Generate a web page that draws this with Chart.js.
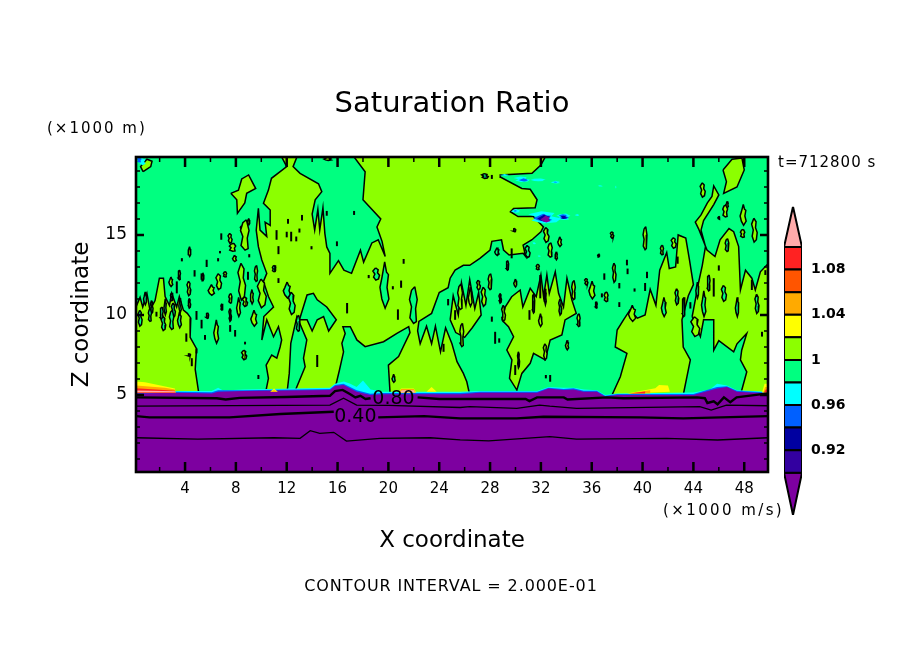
<!DOCTYPE html>
<html><head><meta charset="utf-8">
<style>html,body{margin:0;padding:0;background:#fff}canvas{position:absolute}#main{left:0;top:0}#bar{left:770px;top:200px}</style>
<script src="https://cdn.jsdelivr.net/npm/chart.js@4"></script></head>
<body><canvas id="main" width="904" height="654"></canvas><canvas id="bar" width="120" height="320"></canvas>
<script>
const FONT='"DejaVu Sans"';
const xRange=[0.14,49.87], zRange=[0.19,19.87];
const xTickValues=[4,8,12,16,20,24,28,32,36,40,44,48];
const xMinorValues=[2,6,10,14,18,22,26,30,34,38,42,46];
const zTickValues=[5,10,15];
const zMinorValues=[1,2,3,4,6,7,8,9,11,12,13,14,16,17,18,19];
const barLevels=[0.90,0.92,0.94,0.96,0.98,1.00,1.02,1.04,1.06,1.08,1.10];
const barTicks=[0.92,0.96,1,1.04,1.08];
const barTips=[0.8626,1.1357];
const C={purple:'#7d00a0',indigo:'#3300a0',navy:'#0000a0',blue:'#0060ff',cyan:'#00ffff',teal:'#00ff80',lime:'#8cff00',yellow:'#ffff00',orange:'#ffaa00',ored:'#ff5500',red:'#ff2222',pink:'#ffaaaa'};
const barColors=[C.indigo,C.navy,C.blue,C.cyan,C.teal,C.lime,C.yellow,C.orange,C.ored,C.red];

// Saturation ratio regions as [x, z]
const limeLeft=[[0.14,5],[0.14,10.5],[0.46,11.1],[0.67,10.5],[1,11.35],[1.24,10.3],[1.64,10.9],[1.98,12.3],[2.3,12.3],[2.43,11.15],[2.77,10.6],[2.95,11.35],[3.34,10.5],[3.55,11.15],[3.87,10.3],[4.18,10.1],[4.45,9.8],[4.4,8.6],[4.9,7.9],[4.8,6.6],[5.1,5]];
const limeCentral=[[11.6,19.87],[12,19.27],[10.8,18.54],[10.56,17.8],[10.17,16.98],[10.7,16.56],[10.7,15.6],[10.3,15.8],[10.43,14.9],[9.9,15.3],[9.77,16.66],[9.6,15.3],[9.77,14.27],[10.04,13.44],[10.43,12.6],[10.17,12.1],[10.56,11.15],[10.96,10.5],[10.2,9.9],[10.04,8.44],[10.43,9.7],[10.96,8.64],[11.35,9.27],[11.6,8.44],[11.48,8],[11.22,7.3],[10.82,7.5],[10.38,6.87],[10.56,6.04],[10.3,5],[12,5],[12.2,6.35],[12.32,8.23],[12.8,9.9],[13.58,8.44],[13.32,7.3],[13.45,6.77],[12.53,5],[15.68,5],[16.15,6.56],[16.47,7.7],[16.34,8.23],[16.6,8.85],[16.42,9.27],[17,9.27],[17.52,8.44],[18.17,8.02],[19.62,8.33],[20.67,8.85],[21.6,9.27],[21.7,8.9],[20.8,7.4],[20,6.87],[20.14,5],[26.4,5],[26.17,5.83],[25.9,6.35],[25.4,7.08],[25,8.2],[24.5,9.2],[24.1,7.7],[23.7,9.3],[23.4,8.2],[23,9.3],[22.5,8.2],[22.3,9],[22.4,9.6],[23.4,10.1],[24,11.4],[24.7,11.7],[24.86,12.3],[25.25,12.8],[25.9,13.1],[26.4,13.1],[27.2,13.54],[28,14.06],[28.14,14.6],[28.9,14.7],[29.06,14.06],[29.5,13.75],[30.6,13.85],[30.8,13.65],[30.6,14.37],[31.3,14.7],[32,15.2],[32.2,15.5],[31.4,16.15],[30.2,16.15],[29.6,16.45],[29.85,16.66],[31.55,16.7],[31.7,17.2],[31.16,17.85],[30.5,17.9],[28.85,18.6],[28.8,18.75],[31.3,18.85],[32,19.37],[32.34,19.87],[17.3,19.87],[18.17,18.95],[18,17.2],[19.4,16],[19.1,15.5],[19.5,14.6],[19.75,13.65],[19.2,14.7],[18.7,14.5],[18.05,13.3],[17.8,14.05],[17.1,12.6],[16.5,12.8],[16.07,13.4],[15.4,12.6],[15.4,13.85],[15.15,14.25],[15,15.1],[14.85,16.7],[14.6,15.3],[14.45,16.6],[14.2,15.3],[14.0,16.3],[14.24,17.2],[14.76,17.7],[14.5,18.2],[13.05,18.85],[12.5,19.27],[12.8,19.87]];
const limeMidRight=[[28.93,9.69],[29.19,10.5],[29.7,11.14],[30.37,11.56],[30.58,10.5],[31.16,11.66],[31.63,11.14],[32,12.5],[32.21,11.14],[32.47,12.5],[32.66,11.35],[33.13,12.7],[33.39,11.35],[33.78,10.5],[34.05,12.3],[34.44,10.94],[34.78,10.1],[33.9,9.69],[33.65,8.75],[32.73,8.44],[32.34,7.19],[31.42,7.6],[31.16,6.98],[30.5,6.35],[30.11,5.31],[29.53,6.04],[29.72,7.19],[29.32,7.81],[29.85,8.64],[29.45,9.27]];
const limeNearRight=[[37.6,5],[38.25,6.14],[38.77,7.6],[37.85,8],[38,9.06],[38.5,9.7],[39,10.3],[39.6,9.8],[40.2,10],[40.6,11.6],[41.05,10.6],[41.35,12.8],[41.9,13.9],[42.1,12.9],[42.6,13],[42.8,15],[43.4,14.8],[43.7,13.4],[44,11.9],[43.6,11.2],[43.1,9.7],[43.2,8],[43.76,7.2],[43.2,5]];
const limeFarRight=[[43.9,9.9],[44.55,8.65],[44.8,9.7],[45.6,9.7],[45.6,7.8],[46,8.4],[47.17,7.7],[47.43,8.2],[48.2,8.85],[47.8,7.8],[47.7,7.2],[48.2,6.45],[47.7,5],[49.87,5],[49.87,13.2],[49.27,12.7],[48.87,11.56],[48.6,12.3],[48.1,12.8],[47.7,11.56],[47.56,14.27],[47.17,15.2],[46.8,15.4],[46.1,14.7],[45.7,13.65],[45.07,14.06],[44.4,15.4],[44.15,15.8],[44.6,16.25],[45.1,17],[45.46,17.4],[45.6,18.06],[46,17.5],[45.6,16.9],[44.8,15.9],[44.6,15.3],[44.95,14.27],[44.7,13.1],[44.4,12],[44,10.3]];
const limeLowFingers=[[24.86,9.7],[25.1,11.2],[25.5,10],[25.75,12],[26.1,10.6],[26.4,12.2],[26.8,10.4],[27.1,11.4],[27.3,10],[26.6,9.2],[26,8.6],[25.3,8.9]];
const limeCapTopRight=[[46.33,19.06],[47.04,19.73],[47.82,19.8],[48,19.06],[47.43,18],[46.38,17.6],[46.6,18.33]];
const limeCapTopLeft=[[0.7,18.95],[0.5,19.27],[1,19.73],[1.4,19.6],[1.3,19.27]];
const limeIsland=[[7.6,17.6],[8.2,17.8],[8.46,18.5],[9,18.75],[9.56,17.9],[8.85,17.6],[8.7,17],[8.12,16.35],[8.07,17.2]];
const tealArch=[[13,9.7],[13.6,11.25],[14.1,11.35],[14.4,10.95],[15.15,10.5],[15.9,9.7],[15.3,9],[14.9,9.9],[14.4,9.7],[14,9],[13.6,9.7]];

// Small closed contours: [x, z, half width, half height]
const limeSpots=[[4.34,13.96,.12,.3],[7.54,14.79,.16,.3],[7.75,14.23,.26,.25],[7.88,13.54,.16,.2],[8.46,15.37,.11,.2],[8.72,15,.35,.95],[9,15.83,.1,.2],[8.46,12.08,.3,1.15],[9.59,12.6,.13,.5],[8.2,10.5,.16,.6],[8.72,10.83,.2,.3],[7.57,11.04,.13,.3],[6.05,11.56,.26,.33],[6.65,12.08,.22,.5],[7.15,12.54,.13,.17],[5.39,12.39,.1,.25],[4.3,11.66,.15,.45],[3.55,12.5,.1,.3],[2.87,12.08,.16,.3],[4.34,10.73,.1,.3],[5.76,9.96,.1,.17],[9.25,11.14,.13,.45],[10.04,11.35,.35,.9],[6.9,10.5,.08,.2],[6.44,8.96,.2,.73],[8.65,7.5,.2,.3],[4.34,7.5,.1,.08],[15.2,19.75,.3,.1],[44.73,17.81,.2,.45],[46.51,16.5,.2,.38],[47.9,16.25,.25,.65],[48.8,15.3,.22,.75],[47.88,15.1,.18,.25],[46,16.08,.08,.1],[37.6,15,.13,.2],[40.2,14.8,.16,.72],[33.47,14.58,.16,.3],[32.42,15,.22,.46],[32.73,14.06,.18,.45],[33.2,13.7,.1,.25],[42.45,14.5,.2,.33],[41.53,14.06,.13,.3],[36.54,13.73,.08,.1],[37.77,12.64,.14,.6],[37.14,11.14,.16,.3],[36,11.56,.25,.55],[35.57,12.08,.13,.2],[36.36,10.63,.08,.2],[39.16,10.1,.3,.5],[27.09,11.87,.15,.3],[28,12.08,.15,.5],[29.98,12,.13,.25],[28.8,11.04,.1,.3],[25.78,8.75,.16,.73],[34.05,8.12,.13,.3],[32.34,7.7,.15,.5],[34.97,9.68,.13,.4],[31.95,9.68,.15,.4],[44.15,9.27,.35,.62],[31.76,13,.13,.17],[9.4,9.8,.25,.5],[7.55,10,.1,.4],[25.65,11.14,.2,.8],[26.43,11.14,.16,.6],[27.5,11.14,.2,.6],[34.57,11.56,.15,.6],[46.65,16.9,.1,.2],[29.06,10.1,.15,.5]];
const tealSpots=[[19.67,11.87,.37,1.45],[19.04,12.56,.26,.38],[21.98,10.62,.32,1.15],[12,11.56,.3,.5],[12.4,10.73,.26,.7],[11,12.9,.13,.2],[.85,11.04,.13,.4],[1.38,10.5,.1,.4],[2.95,11.14,.1,.25],[2.43,10.5,.1,.5],[3.08,10.3,.16,.45],[2.16,10.1,.13,.4],[3.6,10.6,.1,.45],[2.3,9.47,.18,.45],[2.95,9.7,.18,.6],[3.55,9.7,.16,.5],[.46,9.8,.16,.5],[1.24,10,.13,.4],[20.4,6.04,.13,.25],[27.6,18.68,.26,.15],[29.93,15.3,.1,.1],[28.53,13.96,.18,.25],[30.95,13.96,.2,.38],[29.37,13.1,.1,.3],[41.66,10.5,.2,.6],[42.7,11.14,.15,.5],[43.23,10.5,.12,.6],[44.8,10.7,.18,.8],[46.4,11.35,.2,.5],[46.65,14.37,.15,.4],[47.43,10.5,.14,.6],[49,10.7,.16,.6],[45.2,12,.12,.5],[44.3,11.56,.12,.5],[30.24,7.2,.08,.5],[31.42,10.73,.1,.6],[32.34,11.14,.08,.5],[33.52,10.5,.12,.5],[12.9,9.48,.15,.5]];
// Tiny contours that read as short black dashes: [x, z low, z high]
const blackDashes=[[12.1,15.7,16],[13.2,15.9,16.25],[11.2,14.7,15.3],[12,14.85,15.2],[12.35,14.6,15.2],[12.75,14.6,14.9],[13,15.15,15.4],[15.15,16.2,16.5],[17.3,16.25,16.5],[11.35,13.8,14.3],[13.95,14.1,14.3],[15.95,14.3,14.6],[5.7,13,13.45],[3.75,13.35,13.55],[6.6,13.35,13.55],[6.75,13.85,14],[6.85,14.7,15.1],[8.95,12.2,12.7],[9.05,13.6,13.8],[11.1,12.75,13.1],[11.35,12,12.3],[16.75,10.1,10.75],[18.45,12.3,12.5],[20.35,11.6,11.8],[21,11.7,12.15],[21.2,13.2,13.5],[20.75,9.7,10.35],[24.7,10.6,11],[25.25,9.7,10.3],[4.9,9.7,10.25],[5.3,12.2,12.6],[1.75,9.9,10.2],[3.35,11.35,12.1],[4.75,12.4,12.8],[5.3,9.16,9.7],[4.53,6.8,7.3],[4.9,7.6,7.9],[5.57,8.45,8.75],[7.55,8.95,9.37],[7.94,8.65,9.06],[8.72,8.16,8.33],[9.77,6,6.25],[14.4,6.75,7.5],[4.1,8.33,8.85],[24.34,7.7,8.2],[28.14,18.5,18.75],[29.7,13.54,14.16],[36.99,12.2,12.6],[38.17,11.66,12],[31.95,11.04,12.5],[36.8,11.1,11.35],[38.17,10.5,10.8],[40.35,12.3,12.7],[39.37,11.46,11.66],[40.2,11.5,12],[38.77,13.1,13.45],[38.82,12.55,12.9],[42.76,13.2,13.65],[45.6,11.15,12.3],[46,12.77,13.1],[48.6,11.56,12.2],[49.66,12.5,12.8],[43.76,10.4,10.8],[28.14,9.58,9.9],[28.4,8.2,8.95],[28.72,8.27,8.54],[29.98,6.25,6.87],[32.39,6.04,6.25],[32.73,5.83,6.25],[31.1,9.7,10.3],[49.4,8.65,8.95]];

// Dry features in the upper air: [x, z, half width, half height]
const cyanPatches=[[29.1,18.75,.4,.06],[30.5,18.48,.65,.17],[31.8,18.44,.65,.08],[33.13,18.3,.4,.08],[36.67,18.06,.2,.04],[37.9,18,.05,.08],[30,16.5,.4,.12],[32.3,16.1,1.3,.38],[33.8,16.14,.58,.2],[34.83,16.25,.2,.06],[31.47,14.48,.15,.06],[31.87,13.68,.13,.04],[.6,19.6,.3,.25]];
const bluePatches=[[30.6,18.44,.4,.1],[33.13,18.3,.16,.03],[29.98,16.5,.13,.04],[32.1,16.08,.8,.25],[33.8,16.14,.4,.15],[.4,19.68,.2,.15]];
const navyPatches=[[32.2,16.05,.55,.22],[33.8,16.1,.28,.1]];
const purplePatches=[[32.34,16,.42,.22]];

// Near-surface bands
const cyanSurface=[[.14,5.2],[3.2,5.25],[6.1,5.25],[6.6,5.45],[7,5.28],[8.6,5.35],[15.4,5.45],[15.8,5.7],[16.5,5.85],[17,5.7],[17.5,5.5],[18,5.9],[18.6,5.35],[19.6,5.2],[25.6,5.2],[27.2,5.25],[31.7,5.25],[32.6,5.5],[33.8,5.45],[34.6,5.45],[35.4,5.35],[36.4,5.3],[37.06,5],[38,5.1],[44,5.15],[45.3,5.35],[45.86,5.7],[46.64,5.6],[47.43,5.3],[49.87,5.2]];
const blueSurface=[[.14,5.17],[3.2,5.2],[6.1,5.18],[6.6,5.3],[8.6,5.3],[15.4,5.38],[15.8,5.62],[16.47,5.7],[17.5,5.3],[18.57,5.08],[19.6,5.12],[25.65,5.12],[27.2,5.2],[31.7,5.2],[32.6,5.45],[33.8,5.38],[34.57,5.42],[35.36,5.27],[36.4,5.26],[37.06,4.96],[38,5.06],[44,5.07],[45.86,5.5],[46.64,5.55],[47.43,5.26],[49.87,5.15]];
const purpleSurface=[[.14,5.1],[3.2,5.14],[6.1,5.1],[6.6,5.2],[8.6,5.25],[15.4,5.31],[15.8,5.56],[16.47,5.62],[17.5,5.2],[18.57,5],[19.6,5.05],[25.65,5.05],[27.2,5.14],[31.7,5.14],[32.6,5.4],[33.8,5.31],[34.57,5.35],[35.36,5.2],[36.4,5.2],[37.06,4.9],[38,5],[44,5],[45.86,5.4],[46.64,5.5],[47.43,5.2],[49.87,5.1]];

// Moist patches on top of the surface layer
const yellowPatches=[[[.14,5.85],[.85,5.8],[3.2,5.4],[3.25,5.14],[.14,5.14]],[[10.7,5.2],[11,5.4],[11.3,5.2]],[[20.8,5.15],[21,5.4],[22,5.4],[22.2,5.15]],[[23,5.2],[23.4,5.5],[23.8,5.2]],[[38.8,5.1],[41,5.42],[41.3,5.63],[42,5.6],[42.15,5.2]],[[49.4,5.15],[49.6,5.7],[49.87,5.7],[49.87,5.15]]];
const orangePatches=[[[.14,5.6],[2.4,5.45],[3.2,5.35],[3.25,5.14],[.14,5.14]],[[10.8,5.2],[11,5.32],[11.2,5.2]],[[20.85,5.15],[21,5.38],[22,5.38],[22.15,5.15]],[[38.8,5.1],[40.6,5.3],[40.6,5.1]],[[49.5,5.15],[49.65,5.5],[49.87,5.5],[49.87,5.15]]];
const redPatches=[[[.14,5.42],[3.2,5.27],[3.22,5.14],[.14,5.14]],[[39,5.1],[40.2,5.22],[40.2,5.1]],[[49.55,5.15],[49.7,5.35],[49.87,5.35],[49.87,5.15]]];
const pinkPatches=[[[.14,5.28],[3.2,5.24],[3.2,5.17],[.14,5.17]],[[20.9,5.15],[21.05,5.3],[22,5.3],[22.1,5.15]]];

// Labelled contours in the dry layer below about z=5
const contour80a=[[.14,4.85],[6.5,4.8],[7.2,4.72],[8.3,4.82],[12,4.88],[15.4,4.95],[15.8,5.25],[16.4,5.32],[17.0,5.05],[17.4,4.85],[17.8,4.95],[18.2,4.75],[18.6,4.8]];
const contour80b=[[22.3,4.85],[24,4.75],[30.8,4.75],[31.1,4.62],[31.7,4.85],[33.8,4.85],[34.1,4.72],[37.2,4.85],[38.5,4.8],[44.3,4.85],[44.9,4.8],[45.1,4.5],[45.6,4.6],[45.9,4.42],[46.4,4.85],[46.9,4.55],[47.4,4.85],[49.87,5.1]];
const contour60=[[.14,4.31],[15.4,4.37],[16.47,4.8],[17.5,4.37],[20,4.35],[25.65,4.22],[26.4,4.27],[30.1,4.16],[31.9,4.37],[32.7,4.3],[34.8,4.16],[44.5,4.27],[45.4,4.06],[46.6,4.37],[49.87,4.33]];
const contour40a=[[.14,3.68],[1.2,3.6],[7.5,3.6],[11.5,3.81],[15.7,3.95]];
const contour40b=[[19.2,3.6],[22.8,3.68],[25.65,3.54],[30.1,3.54],[32.2,3.64],[39.8,3.6],[43.2,3.54],[49.87,3.68]];
const contour20=[[.14,2.33],[5,2.25],[11,2.33],[13.05,2.29],[13.85,2.77],[14.6,2.6],[15.7,2.67],[16.7,2.12],[19.35,2.29],[23.3,2.33],[25.65,2.2],[27.9,2.14],[32.7,2.4],[34.8,2.25],[41.9,2.29],[45.9,2.19],[49.87,2.33]];
const contourLabels=[{text:'0.80',x:20.4,z:4.75},{text:'0.40',x:17.4,z:3.6}];

const spotShapes=[
 [[.1,1],[.5,.55],[.9,.45],[.6,-.1],[1,-.6],[.2,-1],[-.5,-.6],[-.9,-.1],[-.5,.3]],
 [[-.2,1],[.6,.7],[.4,.2],[1,-.2],[.7,-.8],[-.1,-1],[-.8,-.5],[-.4,0],[-1,.5]],
 [[.3,1],[.9,.3],[.5,-.2],[.7,-.9],[0,-1],[-.9,-.7],[-.5,-.1],[-1,.3],[-.5,.8]]];
const toPts=a=>a.map(p=>({x:p[0],y:p[1]}));
const spot=(s,i)=>spotShapes[i%3].map(k=>({x:s[0]+k[0]*s[2],y:s[1]+k[1]*s[3]}));
const poly=(pts,color,outline)=>({data:pts.concat([pts[0]]),backgroundColor:color,fill:'shape',borderColor:outline?'#000':color,borderWidth:outline?1.5:0,showLine:true,pointRadius:0,tension:0});
const stroke=(pts,w)=>({data:pts,borderColor:'#000',borderWidth:w,fill:false,showLine:true,pointRadius:0,tension:0});
const surf=(a,c)=>poly(toPts(a).concat([{x:xRange[1],y:zRange[0]},{x:xRange[0],y:zRange[0]}]),c,false);

const layers=[];
layers.push(poly(toPts([[xRange[0],zRange[0]],[xRange[1],zRange[0]],[xRange[1],zRange[1]],[xRange[0],zRange[1]]]),C.teal,false));
[limeCentral,limeLeft,limeMidRight,limeNearRight,limeFarRight,limeLowFingers,limeCapTopRight,limeCapTopLeft,limeIsland].forEach(p=>layers.push(poly(toPts(p),C.lime,true)));
layers.push(poly(toPts(tealArch),C.teal,true));
tealSpots.forEach((s,i)=>layers.push(poly(spot(s,i),C.teal,true)));
limeSpots.forEach((s,i)=>layers.push(poly(spot(s,i),C.lime,true)));
blackDashes.forEach(d=>layers.push(stroke([{x:d[0],y:d[1]},{x:d[0],y:d[2]}],2)));
cyanPatches.forEach((s,i)=>layers.push(poly(spot(s,i),C.cyan,false)));
bluePatches.forEach((s,i)=>layers.push(poly(spot(s,i),C.blue,false)));
navyPatches.forEach((s,i)=>layers.push(poly(spot(s,i),C.navy,false)));
purplePatches.forEach((s,i)=>layers.push(poly(spot(s,i),C.purple,false)));
layers.push(surf(cyanSurface,C.cyan),surf(blueSurface,C.blue),surf(purpleSurface,C.purple));
yellowPatches.forEach(p=>layers.push(poly(toPts(p),C.yellow,false)));
orangePatches.forEach(p=>layers.push(poly(toPts(p),C.orange,false)));
redPatches.forEach(p=>layers.push(poly(toPts(p),C.red,false)));
pinkPatches.forEach(p=>layers.push(poly(toPts(p),C.pink,false)));
layers.push(stroke(toPts(contour80a),2.4),stroke(toPts(contour80b),2.4),stroke(toPts(contour60),1.3),stroke(toPts(contour40a),2.4),stroke(toPts(contour40b),2.4),stroke(toPts(contour20),1.3));

function spaced(ctx,str,x,y,size,spacing,align){ctx.save();ctx.font=size+'px '+FONT;ctx.fillStyle='#000';ctx.textAlign=align||'left';ctx.textBaseline='middle';ctx.letterSpacing=spacing+'px';ctx.fillText(str,x,y);ctx.restore();}

const framePlugin={id:'frame',afterDatasetsDraw(c){
  const {ctx,chartArea:a,scales:{x,y}}=c;ctx.save();ctx.strokeStyle='#000';
  const tick=(v,len,horizontal)=>{ctx.beginPath();
    if(horizontal){const p=x.getPixelForValue(v);ctx.moveTo(p,a.bottom);ctx.lineTo(p,a.bottom-len);ctx.moveTo(p,a.top);ctx.lineTo(p,a.top+len);}
    else{const p=y.getPixelForValue(v);ctx.moveTo(a.left,p);ctx.lineTo(a.left+len,p);ctx.moveTo(a.right,p);ctx.lineTo(a.right-len,p);}
    ctx.stroke();};
  ctx.lineWidth=1.5;xMinorValues.forEach(v=>tick(v,5,true));zMinorValues.forEach(v=>tick(v,4,false));
  ctx.lineWidth=2.5;xTickValues.forEach(v=>tick(v,10,true));zTickValues.forEach(v=>tick(v,8,false));
  ctx.lineWidth=2.6;ctx.strokeRect(a.left,a.top,a.right-a.left,a.bottom-a.top);
  contourLabels.forEach(l=>spaced(ctx,l.text,x.getPixelForValue(l.x),y.getPixelForValue(l.z),19,0,'center'));
  ctx.restore();
},afterDraw(c){const ctx=c.ctx;
  spaced(ctx,'(\u00d71000 m)',47,129,15,2);
  spaced(ctx,'t=712800 s',778,163,15,1);
  spaced(ctx,'(\u00d71000 m/s)',663,511,15,2.4);
  spaced(ctx,'CONTOUR INTERVAL = 2.000E-01',451,587,16,0.9,'center');
}};

new Chart(document.getElementById('main'),{type:'scatter',data:{datasets:layers.reverse()},plugins:[framePlugin],options:{
  responsive:false,animation:false,devicePixelRatio:1,events:[],
  layout:{padding:{left:0,right:0,top:0,bottom:99}},
  plugins:{legend:{display:false},tooltip:{enabled:false},
    title:{display:true,text:'Saturation Ratio',color:'#000',font:{family:FONT,size:29,weight:'normal'},padding:{top:86.6,bottom:35.6}}},
  scales:{
    x:{type:'linear',min:xRange[0],max:xRange[1],grid:{display:false,drawTicks:false},border:{display:false},
      afterFit(s){s.height=83;s.paddingLeft=0;s.paddingRight=0},afterBuildTicks(s){s.ticks=xTickValues.map(v=>({value:v}))},
      ticks:{color:'#000',font:{family:FONT,size:15},padding:8,autoSkip:false,maxRotation:0},
      title:{display:true,text:'X coordinate',color:'#000',font:{family:FONT,size:23},padding:0}},
    y:{type:'linear',min:zRange[0],max:zRange[1],grid:{display:false,drawTicks:false},border:{display:false},
      afterFit(s){s.width=136;s.paddingTop=0;s.paddingBottom=0},afterBuildTicks(s){s.ticks=zTickValues.map(v=>({value:v}))},
      ticks:{color:'#000',font:{family:FONT,size:17},padding:9,autoSkip:false},
      title:{display:true,text:'Z coordinate',color:'#000',font:{family:FONT,size:23},padding:{top:68,bottom:0}}},
    yRight:{type:'linear',position:'right',min:zRange[0],max:zRange[1],grid:{display:false,drawTicks:false},border:{display:false},
      ticks:{display:false},afterFit(s){s.width=136;s.paddingTop=0;s.paddingBottom=0}}
  }}});

// Colour bar
const barSets=[];
barColors.forEach((col,i)=>{const lo=barLevels[i],hi=barLevels[i+1];
  barSets.push({data:[{x:0,y:lo},{x:1,y:lo},{x:1,y:hi},{x:0,y:hi},{x:0,y:lo}],backgroundColor:col,fill:'shape',borderColor:'#000',borderWidth:2,showLine:true,pointRadius:0,tension:0});});
barSets.push({data:[{x:0,y:barLevels[10]},{x:1,y:barLevels[10]},{x:.5,y:barTips[1]},{x:0,y:barLevels[10]}],backgroundColor:C.pink,fill:'shape',borderColor:'#000',borderWidth:2,showLine:true,pointRadius:0,tension:0});
barSets.push({data:[{x:0,y:barLevels[0]},{x:1,y:barLevels[0]},{x:.5,y:barTips[0]},{x:0,y:barLevels[0]}],backgroundColor:C.purple,fill:'shape',borderColor:'#000',borderWidth:2,showLine:true,pointRadius:0,tension:0});
new Chart(document.getElementById('bar'),{type:'scatter',data:{datasets:barSets},options:{
  responsive:false,animation:false,devicePixelRatio:1,events:[],
  layout:{padding:{left:14,right:0,top:6.7,bottom:5}},
  plugins:{legend:{display:false},tooltip:{enabled:false}},
  scales:{
    x:{type:'linear',min:0,max:1,display:false},
    y:{type:'linear',position:'right',min:barTips[0],max:barTips[1],grid:{display:false,drawTicks:false},border:{display:false},
      afterFit(s){s.width=88;s.paddingTop=0;s.paddingBottom=0},afterBuildTicks(s){s.ticks=barTicks.map(v=>({value:v}))},
      ticks:{color:'#000',font:{family:FONT,size:14,weight:'bold'},padding:9,autoSkip:false,callback:v=>String(v)}}
  }}});
</script></body></html>
